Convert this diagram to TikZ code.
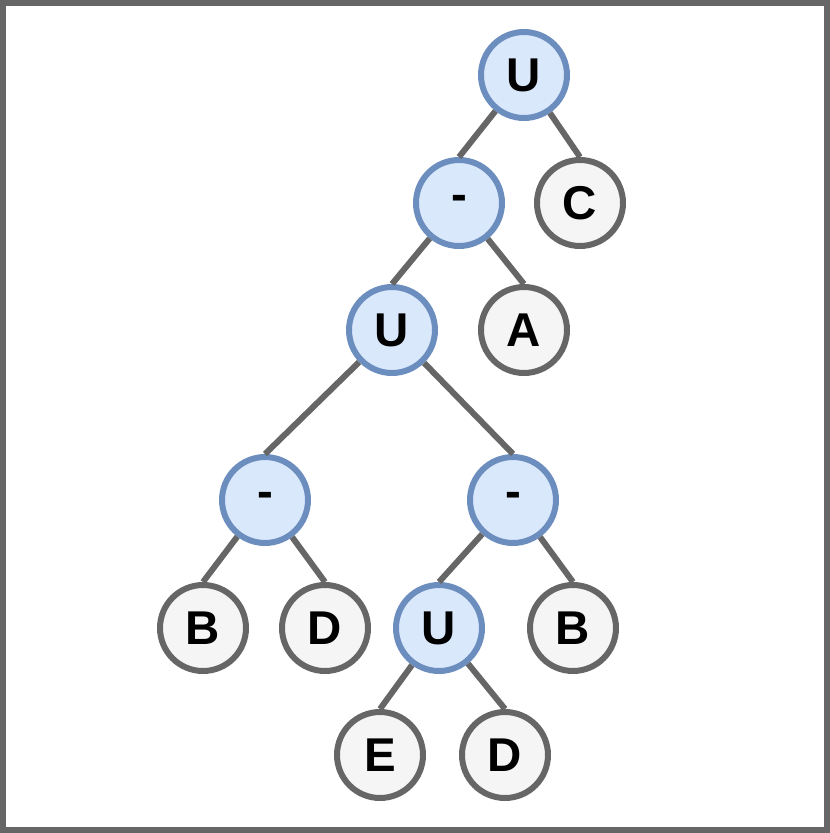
\documentclass[tikz,border=0pt]{standalone}
\usepackage{fontspec}
\setmainfont{Liberation Sans}
\definecolor{opfill}{HTML}{DAE8FC}
\definecolor{opline}{HTML}{6C8EBF}
\definecolor{leaffill}{HTML}{F5F5F5}
\definecolor{leafline}{HTML}{666666}
\tikzset{
  opnode/.style={shape=circle, minimum size=1.72cm, inner sep=0pt, fill=opfill, draw=opline, line width=0.12cm, font=\fontsize{27}{27}\selectfont\bfseries},
  leafnode/.style={shape=circle, minimum size=1.72cm, inner sep=0pt, fill=leaffill, draw=leafline, line width=0.12cm, font=\fontsize{27}{27}\selectfont\bfseries},
  branch/.style={draw=leafline, line width=0.12cm}
}
\begin{document}
\begin{tikzpicture}[x=0.02cm,y=-0.02cm]
\useasboundingbox (0,0) rectangle (830,833);
\draw[draw=leafline, line width=0.12cm] (3,3) rectangle (827,830);
\node[opnode] (U1) at (524,75) {U};
\node[opnode] (M1) at (459,203) {-};
\node[leafnode] (C) at (580,203) {C};
\node[opnode] (U2) at (392,330) {U};
\node[leafnode] (A) at (524,330) {A};
\node[opnode] (M2) at (265,500) {-};
\node[opnode] (M3) at (513,500) {-};
\node[leafnode] (B1) at (203,628) {B};
\node[leafnode] (D1) at (325,628) {D};
\node[opnode] (U3) at (439,628) {U};
\node[leafnode] (B2) at (573,628) {B};
\node[leafnode] (E) at (380,755) {E};
\node[leafnode] (D2) at (505,755) {D};
\draw[branch] (U1) -- (M1.north);
\draw[branch] (U1) -- (C.north);
\draw[branch] (M1) -- (U2.north);
\draw[branch] (M1) -- (A.north);
\draw[branch] (U2) -- (M2.north);
\draw[branch] (U2) -- (M3.north);
\draw[branch] (M2) -- (B1.north);
\draw[branch] (M2) -- (D1.north);
\draw[branch] (M3) -- (U3.north);
\draw[branch] (M3) -- (B2.north);
\draw[branch] (U3) -- (E.north);
\draw[branch] (U3) -- (D2.north);
\end{tikzpicture}
\end{document}
